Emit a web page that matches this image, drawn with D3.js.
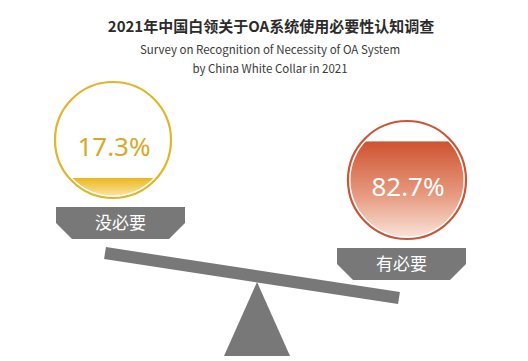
<!DOCTYPE html>
<html><head><meta charset="utf-8">
<script src="https://cdn.jsdelivr.net/npm/d3@7"></script>
<style>body{margin:0;background:#fff}svg{display:block}</style>
</head><body>
<script>
const title = "2021年中国白领关于OA系统使用必要性认知调查";
const subtitleLines = ["Survey on Recognition of Necessity of OA System", "by China White Collar in 2021"];
const categories = ["没必要", "有必要"];
const values = [17.3, 82.7];

const W = 528, H = 361;
const svg = d3.select("body").append("svg").attr("width", W).attr("height", H);
const defs = svg.append("defs");

const g1 = defs.append("linearGradient").attr("id","gY").attr("x1",0).attr("y1",0).attr("x2",0).attr("y2",1);
g1.append("stop").attr("offset","0%").attr("stop-color","#eab81e");
g1.append("stop").attr("offset","100%").attr("stop-color","#fbe9b0");
const g2 = defs.append("linearGradient").attr("id","gR").attr("x1",0).attr("y1",0).attr("x2",0).attr("y2",1);
g2.append("stop").attr("offset","0%").attr("stop-color","#cf5331");
g2.append("stop").attr("offset","55%").attr("stop-color","#e79a7f");
g2.append("stop").attr("offset","100%").attr("stop-color","#f8e6dc");

svg.append("text").attr("x", 271).attr("y", 32).attr("text-anchor","middle")
  .attr("font-family","Noto Sans CJK SC").attr("font-weight","bold").attr("font-size",15).attr("fill","#2b2b2b").text(title);
svg.selectAll("text.sub").data(subtitleLines).join("text").attr("class","sub")
  .attr("x", 270).attr("y",(d,i)=>54+i*19).attr("text-anchor","middle")
  .attr("font-family","Noto Sans CJK SC").attr("font-size",11.5).attr("fill","#3a3a3a").text(d=>d);

const circles = [
  {cx:113, cy:140, r:58, stroke:"#e1b52c", text:"#d8a82a", box:{x:56,y:207}},
  {cx:407, cy:180, r:59, stroke:"#c9563b", text:"#ffffff", box:{x:337,y:248}}
];
const grey = "#787878";

// seesaw
const beam = {x1:105, y1:253, x2:399, y2:298};
const ang = Math.atan2(beam.y2-beam.y1, beam.x2-beam.x1)*180/Math.PI;
const len = Math.hypot(beam.x2-beam.x1, beam.y2-beam.y1);
svg.append("rect").attr("x",0).attr("y",-6).attr("width",len).attr("height",12).attr("fill",grey)
  .attr("transform",`translate(${beam.x1},${beam.y1}) rotate(${ang})`);
svg.append("path").attr("d",d3.line()([[257,282],[290,356],[224,356]])+"Z").attr("fill",grey);

values.forEach((v,i)=>{
  const c = circles[i];
  const h = d3.scaleLinear().domain([0,100]).range([0, 2*c.r]);
  const clipId = "clip"+i;
  defs.append("clipPath").attr("id",clipId).append("circle").attr("cx",c.cx).attr("cy",c.cy).attr("r",c.r-2.5);
  const g = svg.append("g");
  g.append("circle").attr("cx",c.cx).attr("cy",c.cy).attr("r",c.r).attr("fill","#fff").attr("stroke",c.stroke).attr("stroke-width",2.2);
  const top = c.cy + c.r - h(v);
  const fillGrad = i===0 ? "url(#gY)" : "url(#gR)";
  g.append("rect").attr("x",c.cx-c.r).attr("y",top).attr("width",2*c.r).attr("height",h(v))
    .attr("fill",fillGrad).attr("clip-path",`url(#${clipId})`);
  g.append("text").attr("x",c.cx+1).attr("y",c.cy+16).attr("text-anchor","middle")
    .attr("font-family","Noto Sans, Open Sans, sans-serif").attr("font-size",26).attr("fill",c.text)
    .text(v.toFixed(1)+"%");
  const b = c.box, bw = 129, bh = 32, ch = 16;
  g.append("path").attr("d", d3.line()([[b.x,b.y],[b.x+bw,b.y],[b.x+bw,b.y+bh-ch],[b.x+bw-ch,b.y+bh],[b.x+ch,b.y+bh],[b.x,b.y+bh-ch]])+"Z")
    .attr("fill",grey);
  g.append("text").attr("x",b.x+bw/2).attr("y",b.y+22).attr("text-anchor","middle")
    .attr("font-family","Noto Sans CJK SC").attr("font-size",17).attr("fill","#fff").text(categories[i]);
});
</script>
</body></html>
